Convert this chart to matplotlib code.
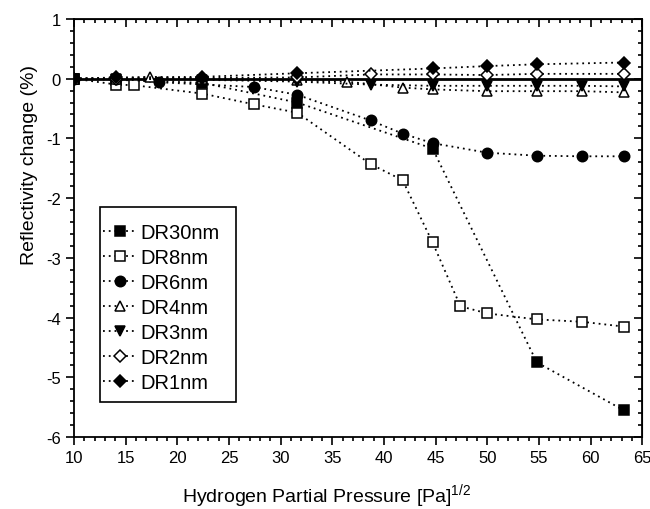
import matplotlib
matplotlib.use("Agg")
import matplotlib.pyplot as plt
from matplotlib.patches import Rectangle
from matplotlib.ticker import MultipleLocator

plt.rcParams["font.family"] = ["Liberation Sans", "DejaVu Sans"]
plt.rcParams["mathtext.default"] = "regular"
plt.rcParams["axes.unicode_minus"] = False

# sqrt of hydrogen partial pressure
x_dr30 = [10, 14.1, 22.4, 31.6, 44.7, 54.8, 63.2]
y_dr30 = [0, -0.02, -0.07, -0.40, -1.17, -4.75, -5.55]

x_dr8 = [10, 14.1, 15.8, 22.4, 27.4, 31.6, 38.7, 41.8, 44.7, 47.4, 50.0, 54.8, 59.2, 63.2]
y_dr8 = [0, -0.10, -0.11, -0.25, -0.43, -0.57, -1.43, -1.70, -2.74, -3.81, -3.93, -4.03, -4.07, -4.15]

x_dr6 = [10, 14.1, 18.2, 27.4, 31.6, 38.7, 41.8, 44.7, 50.0, 54.8, 59.2, 63.2]
y_dr6 = [0, 0, -0.06, -0.14, -0.27, -0.70, -0.92, -1.08, -1.24, -1.29, -1.30, -1.30]

x_dr4 = [10, 14.1, 17.3, 22.4, 31.6, 36.4, 41.8, 44.7, 50.0, 54.8, 59.2, 63.2]
y_dr4 = [0, 0, 0.03, 0, -0.03, -0.05, -0.15, -0.18, -0.21, -0.21, -0.21, -0.23]

x_dr3 = [10, 14.1, 22.4, 31.6, 38.7, 44.7, 50.0, 54.8, 59.2, 63.2]
y_dr3 = [0, 0, -0.02, -0.05, -0.10, -0.12, -0.12, -0.12, -0.12, -0.13]

x_dr2 = [10, 14.1, 22.4, 31.6, 38.7, 44.7, 50.0, 54.8, 63.2]
y_dr2 = [0, 0, 0.01, 0.02, 0.07, 0.07, 0.06, 0.08, 0.08]

x_dr1 = [10, 14.1, 22.4, 31.6, 44.7, 50.0, 54.8, 63.2]
y_dr1 = [0, 0.02, 0.03, 0.09, 0.17, 0.21, 0.24, 0.27]

series = [
    ("DR30nm", x_dr30, y_dr30, "s", "black", 6.5),
    ("DR8nm", x_dr8, y_dr8, "s", "white", 6.5),
    ("DR6nm", x_dr6, y_dr6, "o", "black", 7.5),
    ("DR4nm", x_dr4, y_dr4, "^", "white", 7.5),
    ("DR3nm", x_dr3, y_dr3, "v", "black", 7.5),
    ("DR2nm", x_dr2, y_dr2, "D", "white", 6.5),
    ("DR1nm", x_dr1, y_dr1, "D", "black", 6.5),
]

fig = plt.figure(figsize=(6.5, 5.1), dpi=100)
ax = fig.add_axes([0.114, 0.141, 0.874, 0.820])

ax.axhline(0, color="black", linewidth=2.0, zorder=1)

for label, xs, ys, mk, fc, ms in series:
    ax.plot(xs, ys, linestyle=(0, (1, 2.2)), color="black", linewidth=1.3,
            marker=mk, markersize=ms, markerfacecolor=fc, markeredgecolor="black",
            markeredgewidth=1.1, label=label, zorder=3)

ax.set_xlim(10, 65)
ax.set_ylim(-6, 1)
ax.xaxis.set_major_locator(MultipleLocator(5))
ax.xaxis.set_minor_locator(MultipleLocator(1))
ax.yaxis.set_major_locator(MultipleLocator(1))
ax.yaxis.set_minor_locator(MultipleLocator(0.2))

for sp in ax.spines.values():
    sp.set_linewidth(1.3)

ax.tick_params(which="both", direction="out", top=False, right=False, labelsize=12, width=1.2)
ax.tick_params(which="major", length=6)
ax.tick_params(which="minor", length=3)

top = ax.secondary_xaxis("top")
top.xaxis.set_major_locator(MultipleLocator(5))
top.xaxis.set_minor_locator(MultipleLocator(1))
top.tick_params(which="both", direction="in", labeltop=False, width=1.2)
top.tick_params(which="major", length=6)
top.tick_params(which="minor", length=3)
right = ax.secondary_yaxis("right")
right.yaxis.set_major_locator(MultipleLocator(1))
right.yaxis.set_minor_locator(MultipleLocator(0.2))
right.tick_params(which="both", direction="in", labelright=False, width=1.2)
right.tick_params(which="major", length=6)
right.tick_params(which="minor", length=3)

ax.set_xlabel(r"Hydrogen Partial Pressure [Pa]$^{1/2}$", fontsize=14)
ax.set_ylabel("Reflectivity change (%)", fontsize=14)
ax.xaxis.set_label_coords(0.445, -0.105)
ax.yaxis.set_label_coords(-0.063, 0.653)

# legend box is drawn separately: the original has a tall frame with little side padding
ax.add_patch(Rectangle((0.046, 0.084), 0.239, 0.466, transform=ax.transAxes,
                       facecolor="white", edgecolor="black", linewidth=1.2, zorder=4))
leg = ax.legend(loc="upper left", bbox_to_anchor=(0.051, 0.512), fontsize=14.5,
                frameon=False, handlelength=1.7, handletextpad=0.15,
                labelspacing=0.3, borderpad=0, borderaxespad=0)
leg.set_zorder(5)

fig.savefig("out.png", dpi=100, facecolor="white")
